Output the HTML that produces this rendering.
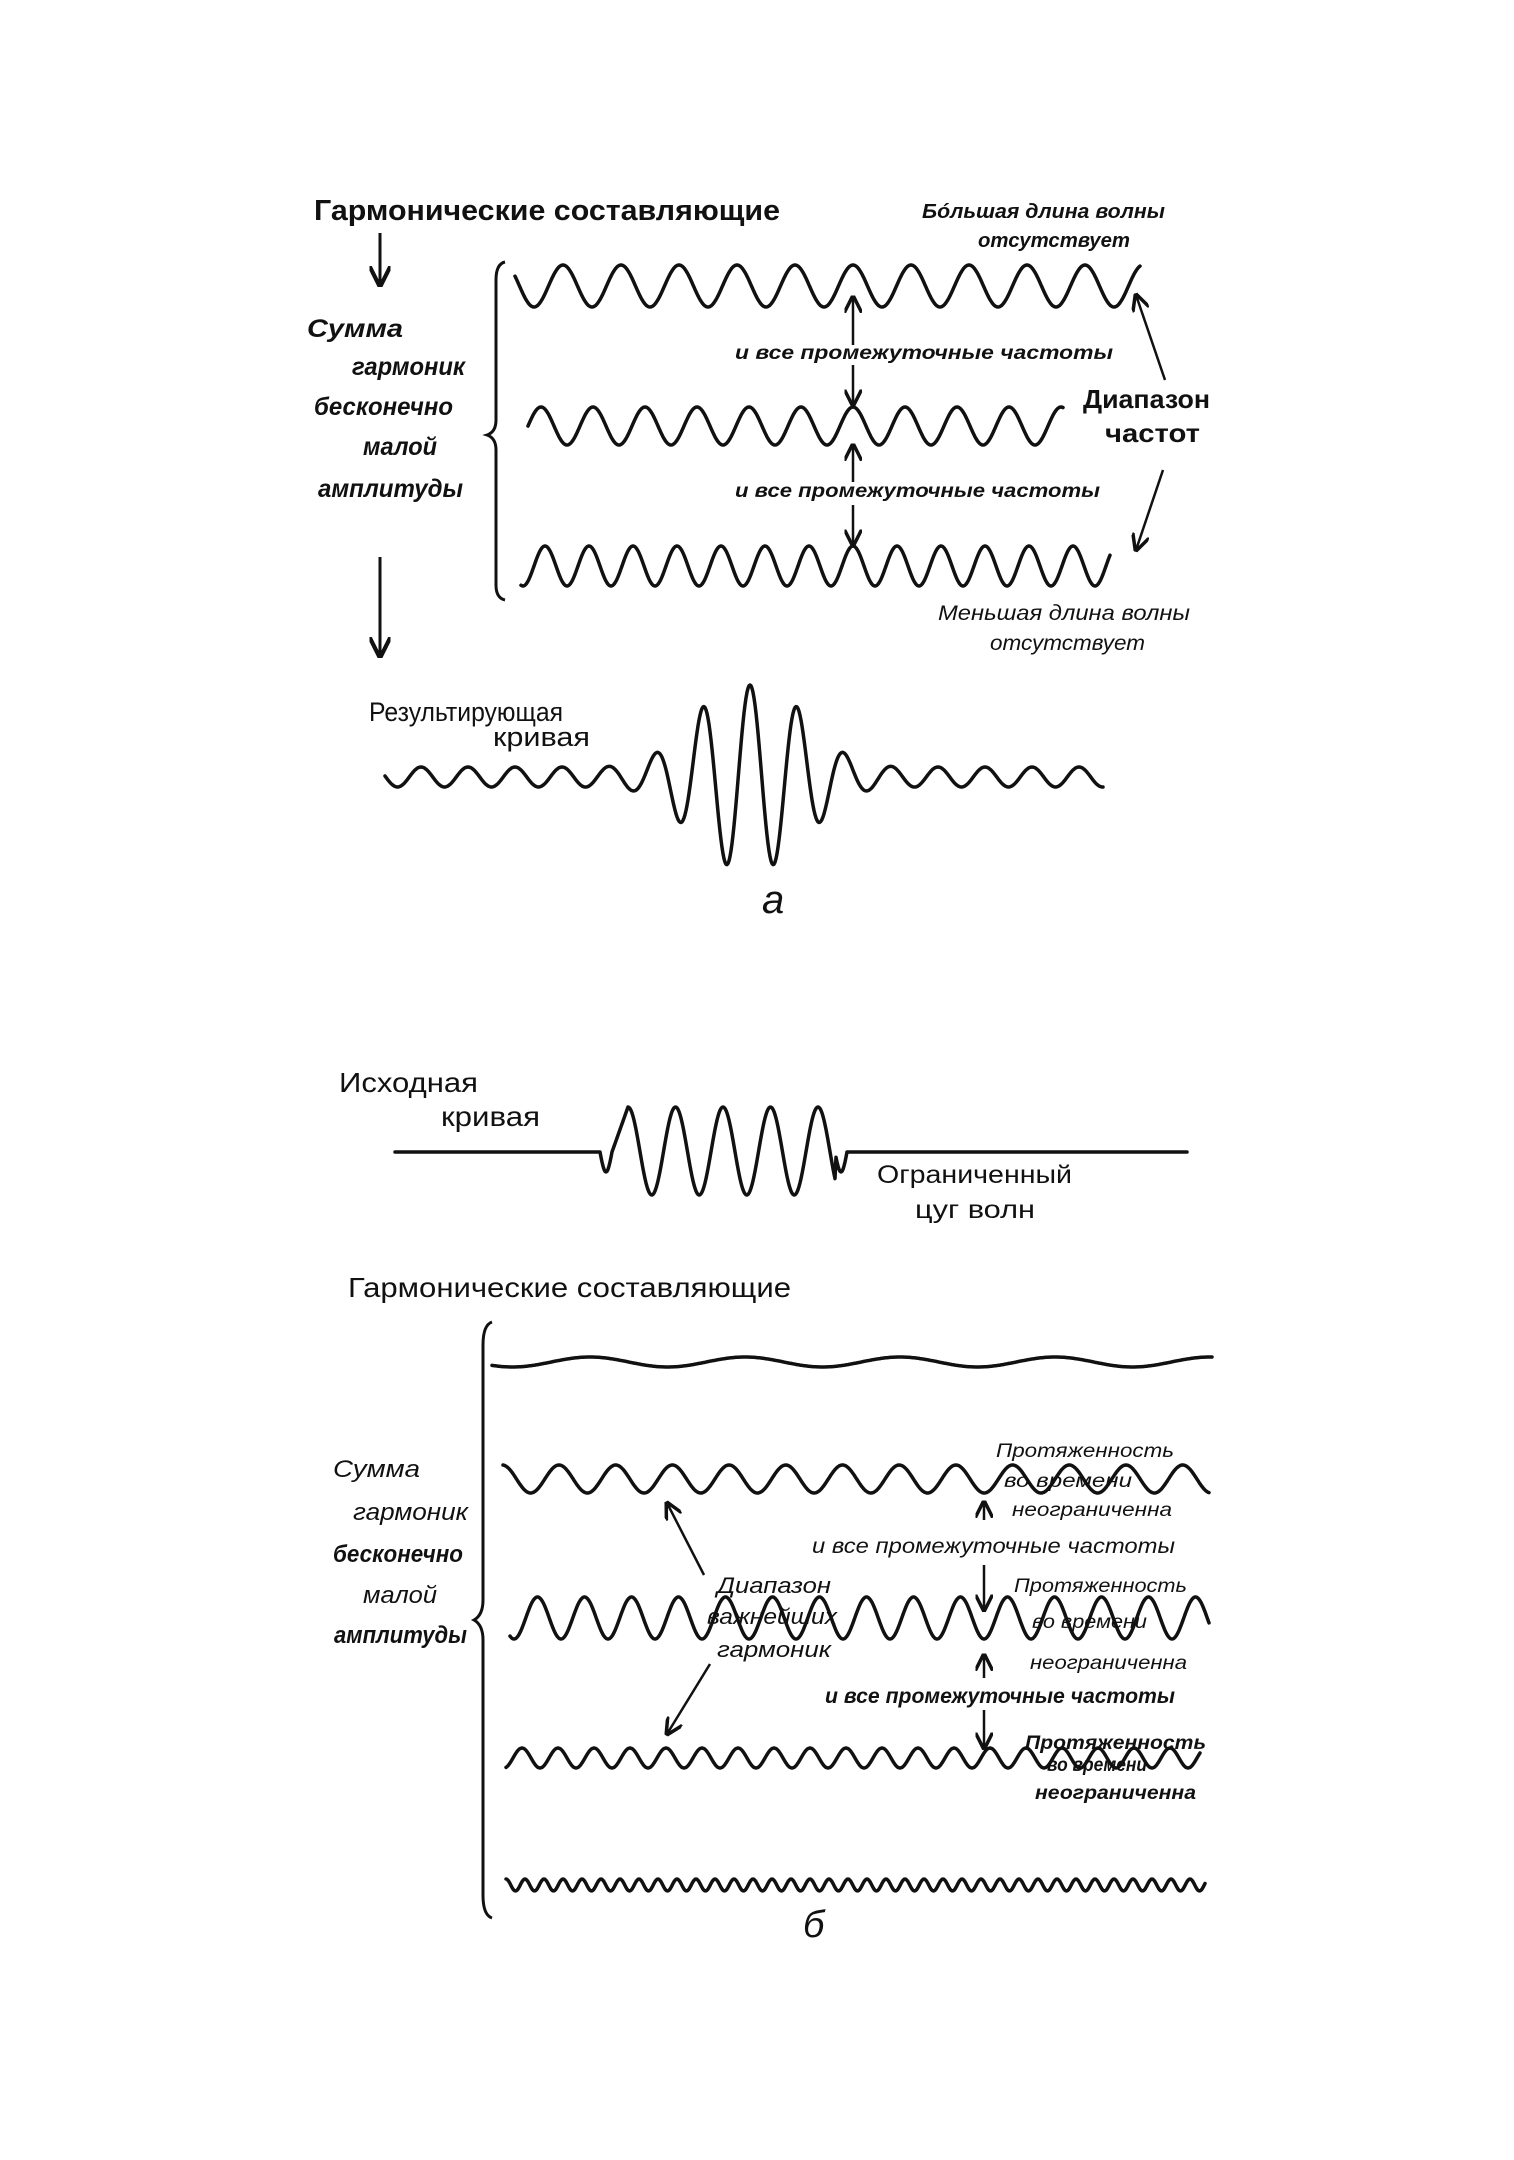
<!DOCTYPE html>
<html><head><meta charset="utf-8">
<style>
html,body{margin:0;padding:0;background:#fff;}
svg{display:block;}
text{font-family:"Liberation Sans","DejaVu Sans",sans-serif;fill:#111;}
.it{font-style:italic;}
.b{font-weight:bold;}
</style></head>
<body>
<svg id="s" width="1514" height="2160" viewBox="0 0 1514 2160" xmlns="http://www.w3.org/2000/svg">
<defs>
<marker id="ar" viewBox="0 0 10 10" refX="9" refY="5" markerWidth="7" markerHeight="7" orient="auto-start-reverse">
<path d="M0,0 L10,5 L0,10" fill="none" stroke="#111" stroke-width="2"/>
</marker>
</defs>
<g id="waves" fill="none" stroke="#111" stroke-width="3.5" stroke-linecap="round" stroke-linejoin="round"></g>

<!-- ===== part a ===== -->
<text x="314" y="220" font-size="29" class="b" textLength="466" lengthAdjust="spacingAndGlyphs">Гармонические составляющие</text>
<text x="922" y="218" font-size="20" class="it b" textLength="243" lengthAdjust="spacingAndGlyphs">Бóльшая длина волны</text>
<text x="978" y="247" font-size="20" class="it b" textLength="152" lengthAdjust="spacingAndGlyphs">отсутствует</text>

<g stroke="#111" stroke-width="3" fill="none">
<line x1="380" y1="233" x2="380" y2="285" marker-end="url(#ar)"/>
<line x1="380" y1="557" x2="380" y2="656" marker-end="url(#ar)"/>
<path d="M505,262 Q496,264 496,280 L496,420 Q496,432 487,435 Q496,438 496,450 L496,585 Q496,598 505,600"/>
<path d="M492,1322 Q483,1325 483,1345 L483,1600 Q483,1615 474,1620 Q483,1625 483,1640 L483,1895 Q483,1915 492,1918"/>
</g>
<g stroke="#111" stroke-width="2.5" fill="none">
<line x1="853" y1="345" x2="853" y2="297" marker-end="url(#ar)"/>
<line x1="853" y1="365" x2="853" y2="405" marker-end="url(#ar)"/>
<line x1="853" y1="482" x2="853" y2="445" marker-end="url(#ar)"/>
<line x1="853" y1="505" x2="853" y2="545" marker-end="url(#ar)"/>
<line x1="1165" y1="380" x2="1136" y2="295" marker-end="url(#ar)"/>
<line x1="1163" y1="470" x2="1136" y2="550" marker-end="url(#ar)"/>
</g>
<text x="735" y="359" font-size="19" class="it b" textLength="378" lengthAdjust="spacingAndGlyphs">и все промежуточные частоты</text>
<text x="735" y="497" font-size="19" class="it b" textLength="365" lengthAdjust="spacingAndGlyphs">и все промежуточные частоты</text>
<text x="1083" y="408" font-size="26" class="b" textLength="127" lengthAdjust="spacingAndGlyphs">Диапазон</text>
<text x="1105" y="442" font-size="26" class="b" textLength="95" lengthAdjust="spacingAndGlyphs">частот</text>
<text x="938" y="620" font-size="21" class="it" textLength="252" lengthAdjust="spacingAndGlyphs">Меньшая длина волны</text>
<text x="990" y="650" font-size="21" class="it" textLength="155" lengthAdjust="spacingAndGlyphs">отсутствует</text>

<g font-size="25" class="it b">
<text x="307" y="337" textLength="96" lengthAdjust="spacingAndGlyphs">Сумма</text>
<text x="352" y="375" textLength="113" lengthAdjust="spacingAndGlyphs">гармоник</text>
<text x="314" y="415" textLength="139" lengthAdjust="spacingAndGlyphs">бесконечно</text>
<text x="363" y="455" textLength="74" lengthAdjust="spacingAndGlyphs">малой</text>
<text x="318" y="497" textLength="145" lengthAdjust="spacingAndGlyphs">амплитуды</text>
</g>
<text x="369" y="721" font-size="27" textLength="194" lengthAdjust="spacingAndGlyphs">Результирующая</text>
<text x="493" y="746" font-size="27" textLength="97" lengthAdjust="spacingAndGlyphs">кривая</text>
<text x="762" y="913" font-size="40" class="it">а</text>

<!-- ===== part b ===== -->
<text x="339" y="1092" font-size="28" textLength="139" lengthAdjust="spacingAndGlyphs">Исходная</text>
<text x="441" y="1126" font-size="28" textLength="99" lengthAdjust="spacingAndGlyphs">кривая</text>
<text x="877" y="1183" font-size="25" textLength="195" lengthAdjust="spacingAndGlyphs">Ограниченный</text>
<text x="915" y="1218" font-size="25" textLength="120" lengthAdjust="spacingAndGlyphs">цуг волн</text>
<text x="348" y="1297" font-size="28" textLength="443" lengthAdjust="spacingAndGlyphs">Гармонические составляющие</text>

<g font-size="24" class="it">
<text x="333" y="1477" textLength="87" lengthAdjust="spacingAndGlyphs">Сумма</text>
<text x="353" y="1520" textLength="115" lengthAdjust="spacingAndGlyphs">гармоник</text>
<text x="333" y="1562" textLength="130" lengthAdjust="spacingAndGlyphs" class="b">бесконечно</text>
<text x="363" y="1603" textLength="74" lengthAdjust="spacingAndGlyphs">малой</text>
<text x="334" y="1643" textLength="133" lengthAdjust="spacingAndGlyphs" class="b">амплитуды</text>
</g>

<g font-size="19" class="it">
<text x="996" y="1457" textLength="178" lengthAdjust="spacingAndGlyphs">Протяженность</text>
<text x="1004" y="1487" textLength="128" lengthAdjust="spacingAndGlyphs">во времени</text>
<text x="1012" y="1516" textLength="160" lengthAdjust="spacingAndGlyphs">неограниченна</text>
<text x="812" y="1553" font-size="21" textLength="363" lengthAdjust="spacingAndGlyphs">и все промежуточные частоты</text>
<text x="1014" y="1592" textLength="173" lengthAdjust="spacingAndGlyphs">Протяженность</text>
<text x="1032" y="1628" textLength="115" lengthAdjust="spacingAndGlyphs">во времени</text>
<text x="1030" y="1669" textLength="157" lengthAdjust="spacingAndGlyphs">неограниченна</text>
<text x="825" y="1703" font-size="21" class="b" textLength="350" lengthAdjust="spacingAndGlyphs">и все промежуточные частоты</text>
<text x="1025" y="1749" class="b" textLength="181" lengthAdjust="spacingAndGlyphs">Протяженность</text>
<text x="1047" y="1771" class="b" textLength="100" lengthAdjust="spacingAndGlyphs">во времени</text>
<text x="1035" y="1799" class="b" textLength="161" lengthAdjust="spacingAndGlyphs">неограниченна</text>
<text x="717" y="1593" font-size="22" textLength="114" lengthAdjust="spacingAndGlyphs">Диапазон</text>
<text x="707" y="1624" font-size="22" textLength="130" lengthAdjust="spacingAndGlyphs">важнейших</text>
<text x="717" y="1657" font-size="22" textLength="114" lengthAdjust="spacingAndGlyphs">гармоник</text>
</g>
<g stroke="#111" stroke-width="2.5" fill="none">
<line x1="984" y1="1520" x2="984" y2="1502" marker-end="url(#ar)"/>
<line x1="984" y1="1565" x2="984" y2="1610" marker-end="url(#ar)"/>
<line x1="984" y1="1678" x2="984" y2="1655" marker-end="url(#ar)"/>
<line x1="984" y1="1710" x2="984" y2="1748" marker-end="url(#ar)"/>
<line x1="704" y1="1575" x2="667" y2="1503" marker-end="url(#ar)"/>
<line x1="710" y1="1664" x2="667" y2="1734" marker-end="url(#ar)"/>
</g>
<text x="803" y="1937" font-size="38" class="it">б</text>
</svg>
<script>
(function(){
var g=document.getElementById('waves');
function add(d,w){var p=document.createElementNS('http://www.w3.org/2000/svg','path');p.setAttribute('d',d);if(w)p.setAttribute('stroke-width',w);g.appendChild(p);}
function wave(x0,x1,cy,amp,P,cx,w){
  var d='';for(var x=x0;x<=x1;x+=1){var y=cy-amp*Math.cos(2*Math.PI*(x-cx)/P);d+=(x===x0?'M':'L')+x.toFixed(1)+','+y.toFixed(1);}add(d,w);}
// part a
wave(515,1140,286,21,58,853);
wave(528,1063,426,19,52,853);
wave(521,1110,566,20,44,853);
// result curve
(function(){var d='';for(var x=385;x<=1103;x++){var dd=Math.abs(x-750);var A=10+82*Math.exp(-Math.pow(dd/75,2.5));
 var y=777-A*Math.cos(2*Math.PI*(x-750)/47);d+=(x===385?'M':'L')+x+','+y.toFixed(1);}add(d);})();
// original packet
(function(){var d='M395,1152 L600,1152';
 for(var x=600;x<=847;x++){var y;
  if(x<612||x>835){y=1152+20*Math.sin(Math.PI*(x<612?(x-600)/12:(847-x)/12));}
  else{var t=(x-628);y=1151-44*Math.cos(2*Math.PI*t/47.5);
   if(x<628) y=1152+ (1107-1152)*((x-612)/16) ; }
  d+='L'+x+','+y.toFixed(1);}
 d+=' L1187,1152';add(d);})();
// part b waves
wave(492,1212,1362,5,155,590);
wave(503,1209,1479,14,56.7,559);
wave(510,1209,1618,21,47,1007.5);
wave(506,1200,1758,10,36,990);
wave(506,1205,1885,6,19,506);
})();
</script>
</body></html>
